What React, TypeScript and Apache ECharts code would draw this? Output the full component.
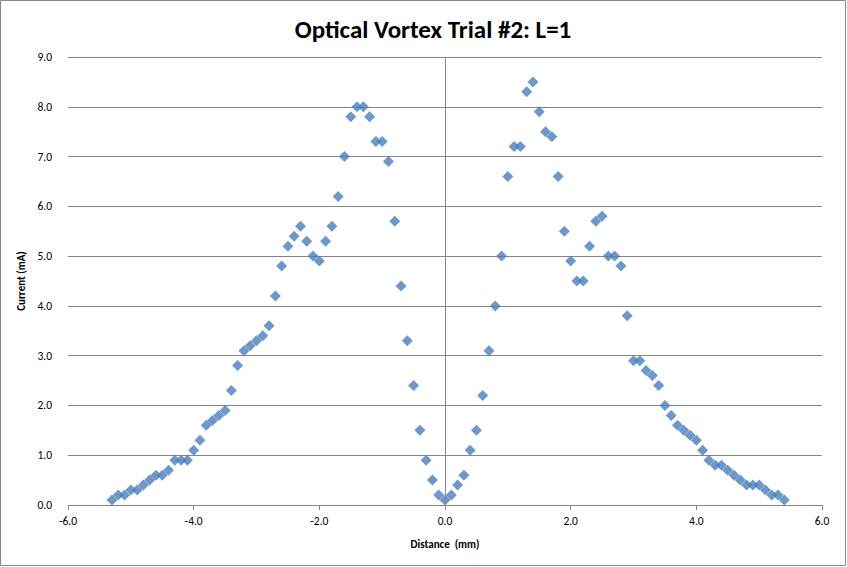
import React, { useEffect, useRef } from "react";
import * as echarts from "echarts";

const xValues: number[] = [
  -5.3, -5.2, -5.1, -5.0, -4.9, -4.8, -4.7, -4.6, -4.5, -4.4,
  -4.3, -4.2, -4.1, -4.0, -3.9, -3.8, -3.7, -3.6, -3.5, -3.4,
  -3.3, -3.2, -3.1, -3.0, -2.9, -2.8, -2.7, -2.6, -2.5, -2.4,
  -2.3, -2.2, -2.1, -2.0, -1.9, -1.8, -1.7, -1.6, -1.5, -1.4,
  -1.3, -1.2, -1.1, -1.0, -0.9, -0.8, -0.7, -0.6, -0.5, -0.4,
  -0.3, -0.2, -0.1, 0.0, 0.1, 0.2, 0.3, 0.4, 0.5, 0.6,
  0.7, 0.8, 0.9, 1.0, 1.1, 1.2, 1.3, 1.4, 1.5, 1.6,
  1.7, 1.8, 1.9, 2.0, 2.1, 2.2, 2.3, 2.4, 2.5, 2.6,
  2.7, 2.8, 2.9, 3.0, 3.1, 3.2, 3.3, 3.4, 3.5, 3.6,
  3.7, 3.8, 3.9, 4.0, 4.1, 4.2, 4.3, 4.4, 4.5, 4.6,
  4.7, 4.8, 4.9, 5.0, 5.1, 5.2, 5.3, 5.4,
];

const currentValues: number[] = [
  0.1, 0.2, 0.2, 0.3, 0.3, 0.4, 0.5, 0.6, 0.6, 0.7,
  0.9, 0.9, 0.9, 1.1, 1.3, 1.6, 1.7, 1.8, 1.9, 2.3,
  2.8, 3.1, 3.2, 3.3, 3.4, 3.6, 4.2, 4.8, 5.2, 5.4,
  5.6, 5.3, 5.0, 4.9, 5.3, 5.6, 6.2, 7.0, 7.8, 8.0,
  8.0, 7.8, 7.3, 7.3, 6.9, 5.7, 4.4, 3.3, 2.4, 1.5,
  0.9, 0.5, 0.2, 0.1, 0.2, 0.4, 0.6, 1.1, 1.5, 2.2,
  3.1, 4.0, 5.0, 6.6, 7.2, 7.2, 8.3, 8.5, 7.9, 7.5,
  7.4, 6.6, 5.5, 4.9, 4.5, 4.5, 5.2, 5.7, 5.8, 5.0,
  5.0, 4.8, 3.8, 2.9, 2.9, 2.7, 2.6, 2.4, 2.0, 1.8,
  1.6, 1.5, 1.4, 1.3, 1.1, 0.9, 0.8, 0.8, 0.7, 0.6,
  0.5, 0.4, 0.4, 0.4, 0.3, 0.2, 0.2, 0.1,
];

const titleText = "Optical Vortex Trial #2: L=1";
const xAxisName = "Distance  (mm)";
const yAxisName = "Current (mA)";

export default function App() {
  const ref = useRef<HTMLDivElement>(null);

  useEffect(() => {
    if (!ref.current) return;
    const chart = echarts.init(ref.current, undefined, { renderer: "svg" });
    const font = "Carlito, 'Liberation Sans Narrow', 'Liberation Sans', Arial, sans-serif";
    chart.setOption({
      animation: false,
      backgroundColor: "#ffffff",
      title: {
        text: titleText,
        left: 428,
        textAlign: "center",
        top: 12,
        textStyle: { fontFamily: font, fontSize: 25, fontWeight: "bold", color: "#000" },
      },
      graphic: [
        {
          type: "rect",
          shape: { x: 0.5, y: 0.5, width: 845, height: 565 },
          style: { fill: "none", stroke: "#888888", lineWidth: 1 },
          silent: true,
        },
      ],
      grid: { left: 68, right: 25, top: 57, bottom: 62 },
      xAxis: {
        type: "value",
        min: -6,
        max: 6,
        interval: 2,
        name: xAxisName,
        nameLocation: "middle",
        nameGap: 34,
        nameTextStyle: { fontFamily: font, fontSize: 11, fontWeight: "bold", color: "#000" },
        axisLine: { onZero: false, lineStyle: { color: "#868686" } },
        axisTick: { show: true, length: 5, lineStyle: { color: "#868686" } },
        axisLabel: {
          fontFamily: font,
          fontSize: 11.5,
          color: "#000",
          margin: 10,
          formatter: (v: number) => v.toFixed(1),
        },
        splitLine: { show: false },
      },
      yAxis: {
        type: "value",
        min: 0,
        max: 9,
        interval: 1,
        name: yAxisName,
        nameLocation: "middle",
        nameGap: 40,
        nameTextStyle: { fontFamily: font, fontSize: 11, fontWeight: "bold", color: "#000" },
        axisLine: { show: false },
        axisTick: { show: false },
        axisLabel: {
          fontFamily: font,
          fontSize: 11.5,
          color: "#000",
          margin: 16,
          formatter: (v: number) => v.toFixed(1),
        },
        splitLine: { show: true, lineStyle: { color: "#868686", width: 1 } },
      },
      series: [
        {
          type: "scatter",
          data: xValues.map((x, i) => [x, currentValues[i]]),
          symbol: "diamond",
          symbolSize: 11,
          itemStyle: { color: "#4A7EBB" },
          markLine: {
            silent: true,
            symbol: "none",
            label: { show: false },
            lineStyle: { color: "#868686", type: "solid", width: 1 },
            data: [[{ coord: [0, 0], y: 510 }, { coord: [0, 9] }]],
          },
        },
      ],
    });
    return () => chart.dispose();
  }, []);

  return (
    <div
      ref={ref}
      style={{ position: "absolute", left: 0, top: 0, width: 847, height: 567 }}
    />
  );
}
